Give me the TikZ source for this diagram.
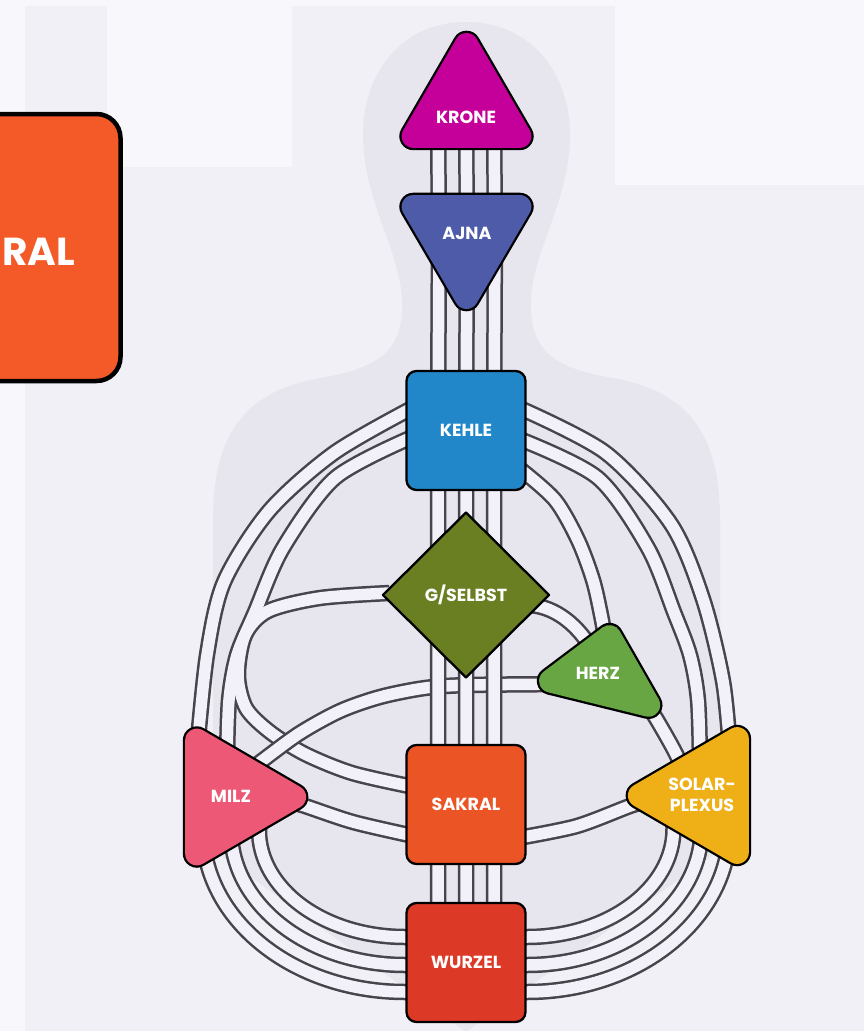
\documentclass[tikz,border=0pt]{standalone}
\usepackage{fontspec}
\setmainfont{Poppins}
\usetikzlibrary{shapes.geometric,calc}
\pgfdeclarelayer{backdrop}
\pgfdeclarelayer{channels}
\pgfsetlayers{backdrop,channels,main}

\definecolor{canvasc}{HTML}{F8F7FB}
\definecolor{panelc}{HTML}{F2F0F7}
\definecolor{bodyc}{HTML}{E7E5EE}
\definecolor{chline}{HTML}{47444C}
\definecolor{chfill}{HTML}{F2F0F8}
\definecolor{kronec}{HTML}{C5009A}
\definecolor{ajnac}{HTML}{4E5BA8}
\definecolor{kehlec}{HTML}{2187C9}
\definecolor{gc}{HTML}{6A7E22}
\definecolor{herzc}{HTML}{68A543}
\definecolor{milzc}{HTML}{EC5875}
\definecolor{sakralc}{HTML}{EB5526}
\definecolor{solarc}{HTML}{EFAF17}
\definecolor{wurzelc}{HTML}{DC3A26}
\definecolor{boxc}{HTML}{F35A27}

\tikzset{
  lbl/.style={text=white, font=\bfseries\fontsize{17.5}{21}\selectfont, inner sep=0pt, align=center},
  centre/.style={draw=black, line width=2.3pt, line join=round},
  sq/.style={centre, lbl, rectangle, rounded corners=10pt, minimum width=119pt, minimum height=119pt},
  % rounded triangles: a black round-joined rim, then the coloured body inside it
  rimb/.style={draw=black, fill=black, line width=28pt, line join=round},
  rimf/.style={draw=#1, fill=#1, line width=23.4pt, line join=round},
  chout/.style={draw=chline, line width=16.5pt},
  chin/.style={draw=chfill, line width=11.5pt},
}

\newcommand\roundtri[4]{%
  \path[rimb] #2 -- #3 -- #4 -- cycle;
  \path[rimf=#1] #2 -- #3 -- #4 -- cycle;
}

% channels that share one outline pass (overlaps merge)
\newcommand\mergedchannels[1]{%
  \draw[#1] plot[smooth] coordinates {(k1a) (334,453) (269,511) (224,582) (207,655) (k1b)};
  \draw[#1] plot[smooth] coordinates {(k2a) (335,478) (283,548) (255,612) (237,655) (229,700) (k2b)};
  \draw[#1] plot[smooth] coordinates {(gw) (320,598) (268,611) (245,635) (238,675) (246,708) (270,732) (305,754) (352,773) (sw)};
  \draw[#1] plot[smooth] coordinates {(r1a) (606,453) (671,524) (703,599) (723,681) (r1b)};
  \draw[#1] plot[smooth] coordinates {(r2a) (598,478) (648,548) (674,612) (690,655) (698,700) (r2b)};
  \draw[#1] plot[smooth] coordinates {(r3a) (555,500) (578,540) (593,580) (601,615) (r3b)};
  \draw[#1] (ge) .. controls (550,605) and (575,620) .. (hzg);
  \draw[#1] plot[smooth] coordinates {(hzs) (657,720) (674,750) (sos)};
  \draw[#1] plot[smooth] coordinates {(mzs) (305,806) (353,822) (sks)};
  \draw[#1] plot[smooth] coordinates {(ske) (577,826) (630,806) (sot)};
  % spleen to root
  \draw[#1] (mwi) -- ++(0,15) .. controls +(0,59) and +(-81.7,0) .. ($(wurzel.west)+(0,-25.5)$) -- +(8,0);
  \draw[#1] (mwm) -- ++(0,15) .. controls +(0,74.5) and +(-97,0) .. ($(wurzel.west)+(0,2.5)$) -- +(8,0);
  \draw[#1] (mwo) -- ++(0,15) .. controls +(0,89.4) and +(-112.6,0) .. ($(wurzel.west)+(0,29.5)$) -- +(8,0);
  % solar plexus to root
  \draw[#1] (swi) -- ++(0,15) .. controls +(0,59) and +(81.7,0) .. ($(wurzel.east)+(0,-25.5)$) -- +(-8,0);
  \draw[#1] (swm) -- ++(0,15) .. controls +(0,74.5) and +(97,0) .. ($(wurzel.east)+(0,2.5)$) -- +(-8,0);
  \draw[#1] (swo) -- ++(0,15) .. controls +(0,89.4) and +(112.6,0) .. ($(wurzel.east)+(0,29.5)$) -- +(-8,0);
}

\begin{document}
\begin{tikzpicture}[x=1pt,y=-1pt]
\useasboundingbox (0,0) rectangle (864,1031);

% ---- centres: squares and diamond ----
\node[sq, fill=kehlec] (kehle) at (466,430.5) {KEHLE};
\node[centre, lbl, diamond, fill=gc, minimum width=167pt, minimum height=166pt, rounded corners=0pt] (g) at (466,595) {G/SELBST};
\node[sq, fill=sakralc] (sakral) at (466,804.5) {SAKRAL};
\node[sq, fill=wurzelc] (wurzel) at (466,962.5) {WURZEL};

% ---- centres: triangles ----
\roundtri{kronec}{(466.5,44.7)}{(519.7,136.2)}{(413.3,136.2)}
\node[lbl] (krone) at (466,117) {KRONE};
\roundtri{ajnac}{(413.3,206.7)}{(519.7,206.7)}{(466.5,297.3)}
\node[lbl] (ajna) at (467,233) {AJNA};
\roundtri{herzc}{(609.5,636.8)}{(648.5,705)}{(550.8,680.9)}
\node[lbl] (herz) at (598,673) {HERZ};
\roundtri{milzc}{(196.85,740.3)}{(294.4,797)}{(196.85,853.7)}
\node[lbl] (milz) at (231,796) {MILZ};
\roundtri{solarc}{(737.15,738.8)}{(737.15,852.2)}{(639.6,795.5)}
\node[lbl] (solar) at (702,795) {SOLAR-\\PLEXUS};

% ---- side card ----
\path[draw=black, line width=4.5pt, fill=boxc, rounded corners=24pt] (-40,114) rectangle (120.5,381);
\node[lbl, font=\bfseries\fontsize{39}{39}\selectfont, anchor=east] (card) at (75,252) {RAL};

% ---- channel end points ----
\coordinate (k1a) at ($(kehle.west)+(6,-22)$);
\coordinate (k1b) at ($(milz)+(-34,-45)$);
\coordinate (k2a) at ($(kehle.west)+(6,7)$);
\coordinate (k2b) at ($(milz)+(-4,-35)$);
\coordinate (r1a) at ($(kehle.east)+(-6,-22)$);
\coordinate (r1b) at ($(solar)+(28,-45)$);
\coordinate (r2a) at ($(kehle.east)+(-6,9)$);
\coordinate (r2b) at ($(solar)+(-2,-32)$);
\coordinate (r3a) at ($(kehle.east)+(-6,39)$);
\coordinate (r3b) at ($(herz)+(8,-30)$);
\coordinate (gw) at ($(g.west)+(8,-2)$);
\coordinate (sw) at ($(sakral.west)+(6,-18)$);
\coordinate (ge) at ($(g.east)+(-24,10)$);
\coordinate (hzg) at ($(herz)+(-5,-22)$);
\coordinate (hzs) at ($(herz)+(48,30)$);
\coordinate (sos) at ($(solar)+(-14,-16)$);
\coordinate (mzs) at ($(milz)+(54,4)$);
\coordinate (sks) at ($(sakral.west)+(6,31)$);
\coordinate (ske) at ($(sakral.east)+(-6,33)$);
\coordinate (sot) at ($(solar)+(-52,5)$);
\coordinate (mh1) at ($(milz)+(14,-22)$);
\coordinate (hz1) at ($(herz)+(-23,11)$);
\coordinate (mwi) at ($(milz)+(28,19)$);
\coordinate (mwm) at ($(milz)+(0,19)$);
\coordinate (mwo) at ($(milz)+(-28,19)$);
\coordinate (swi) at ($(solar)+(-28.5,19)$);
\coordinate (swm) at ($(solar)+(-0.5,19)$);
\coordinate (swo) at ($(solar)+(27.5,19)$);

% ---- channels ----
\begin{pgfonlayer}{channels}
  \mergedchannels{chout}
  \mergedchannels{chin}
  \draw[chout] plot[smooth] coordinates {(mh1) (263,760) (300,733) (340,711) (380,697) (425,688) (470,685) (hz1)};
  \draw[chin] plot[smooth] coordinates {(mh1) (263,760) (300,733) (340,711) (380,697) (425,688) (470,685) (hz1)};
  \foreach \dx in {-28,0,28}{
    \draw[chout] ([xshift=\dx pt]krone.center) -- ([xshift=\dx pt]ajna.center) -- ([xshift=\dx pt]kehle.center)
      -- ([xshift=\dx pt]g.center) -- ([xshift=\dx pt]sakral.center) -- ([xshift=\dx pt]wurzel.center);
    \draw[chin] ([xshift=\dx pt]krone.center) -- ([xshift=\dx pt]ajna.center) -- ([xshift=\dx pt]kehle.center)
      -- ([xshift=\dx pt]g.center) -- ([xshift=\dx pt]sakral.center) -- ([xshift=\dx pt]wurzel.center);
  }
\end{pgfonlayer}

% ---- backdrop and body outline ----
\begin{pgfonlayer}{backdrop}
  \fill[canvasc] (0,0) rectangle (864,1031);
  \fill[panelc] (25,6) rectangle (864,1031);
  \fill[canvasc] (107,0) rectangle (292,167);
  \fill[canvasc] (615,0) rectangle (864,185);
  \fill[bodyc] (466,22)
    .. controls (402,22) and (363,72) .. (363,135)
    .. controls (363,200) and (400,250) .. (402,300)
    .. controls (404,350) and (380,368) .. (320,378)
    .. controls (240,392) and (213,440) .. (213,520)
    -- (213,850) -- (466,1032) -- (720,850) -- (720,520)
    .. controls (720,440) and (693,392) .. (613,378)
    .. controls (553,368) and (529,350) .. (531,300)
    .. controls (533,250) and (570,200) .. (570,135)
    .. controls (570,72) and (530,22) .. (466,22) -- cycle;
\end{pgfonlayer}
\end{tikzpicture}
\end{document}
